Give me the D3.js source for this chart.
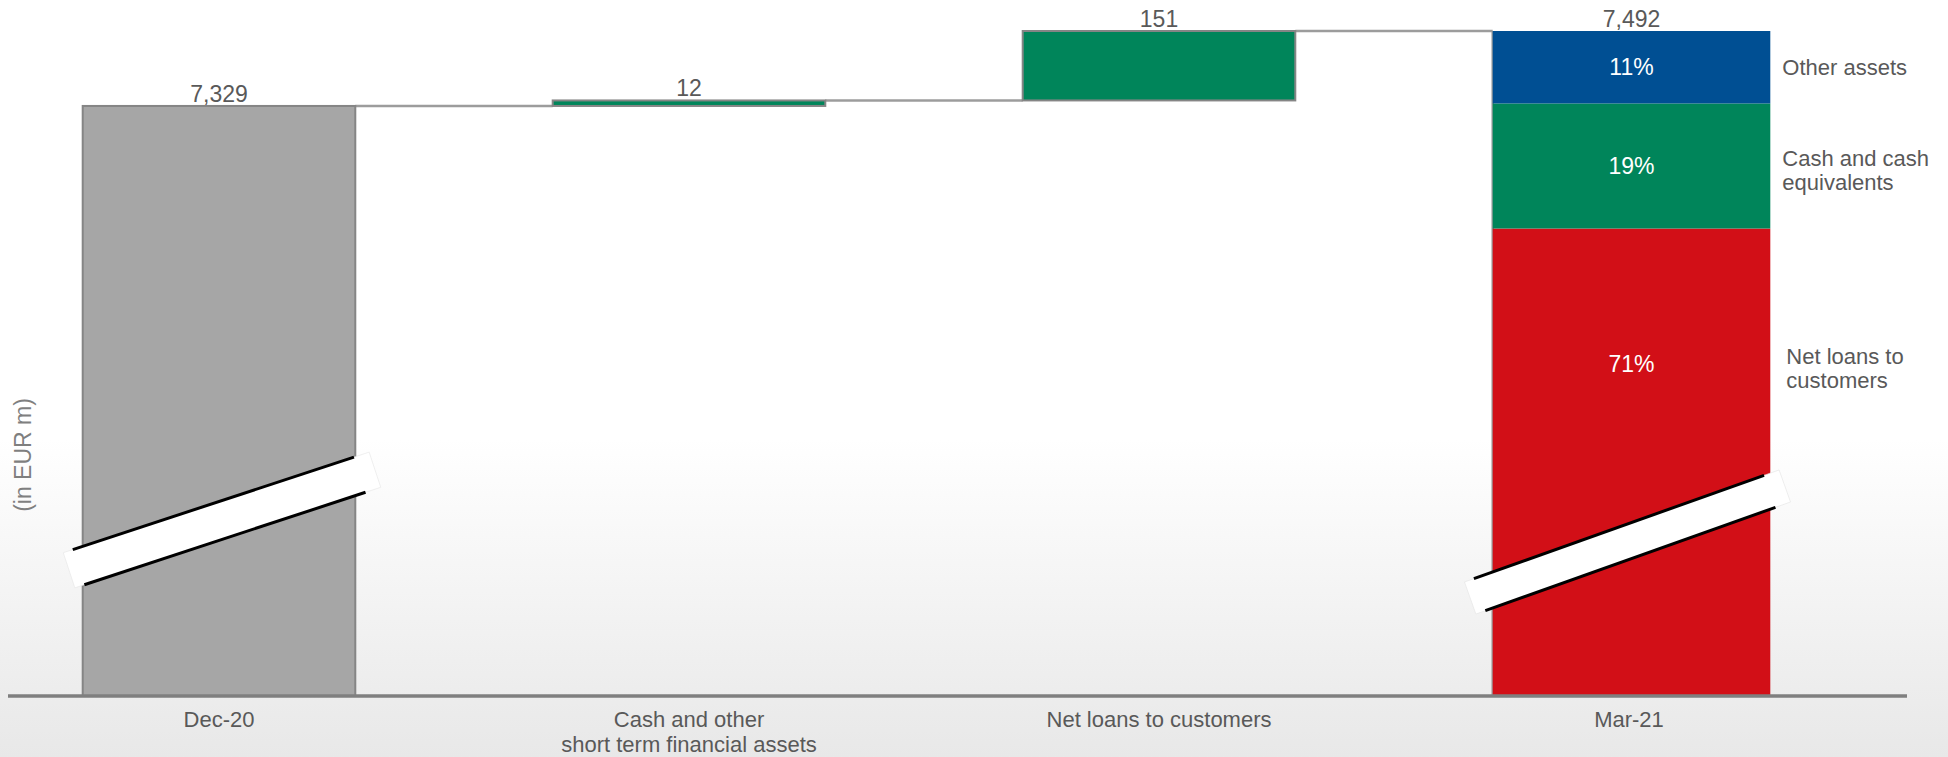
<!DOCTYPE html>
<html><head><meta charset="utf-8">
<script src="https://cdn.jsdelivr.net/npm/d3@7"></script>
<style>html,body{margin:0;padding:0;overflow:hidden;background:#fff}</style>
</head><body>
<svg id="chart" width="1948" height="757"></svg>
<script>
// ---- data ----
const categories = ["Dec-20", "Cash and other\nshort term financial assets", "Net loans to customers", "Mar-21"];
const barTypes = ["total", "delta", "delta", "total"];
const barValues = [7329, 12, 151, 7492];
const compositionNames = ["Net loans to\ncustomers", "Cash and cash\nequivalents", "Other assets"];
const compositionShares = [71, 19, 11];
const yAxisTitle = "(in EUR m)";

// ---- layout ----
const W = 1948, H = 757;
const FONT = "'Liberation Sans', Arial, sans-serif";
const TXT = "#595959";
const svg = d3.select("#chart");
const defs = svg.append("defs");
const grad = defs.append("linearGradient").attr("id", "bg").attr("x1", 0).attr("y1", 0).attr("x2", 0).attr("y2", 1);
grad.append("stop").attr("offset", "0%").attr("stop-color", "#ffffff");
grad.append("stop").attr("offset", "58%").attr("stop-color", "#ffffff");
grad.append("stop").attr("offset", "100%").attr("stop-color", "#e8e8e8");
svg.append("rect").attr("width", W).attr("height", H).attr("fill", "url(#bg)");

const x = d3.scaleBand().domain(categories).range([-16, 1864]).paddingInner(0.42).paddingOuter(0.21);
const y = d3.scaleLinear().domain([6046, 7492]).range([696, 31]);
const floorVal = y.domain()[0];
const fmt = d3.format(",");

// waterfall geometry
let running = 0;
const bars = categories.map((c, i) => {
  let start, end;
  if (barTypes[i] === "total") { start = floorVal; end = barValues[i]; running = barValues[i]; }
  else { start = running; end = running + barValues[i]; running = end; }
  return { cat: c, type: barTypes[i], value: barValues[i], start, end, idx: i };
});

// connectors
const gConn = svg.append("g");
bars.slice(0, -1).forEach((b, i) => {
  const nb = bars[i + 1];
  gConn.append("line")
    .attr("x1", x(b.cat) + x.bandwidth()).attr("x2", x(nb.cat))
    .attr("y1", y(b.end)).attr("y2", y(b.end))
    .attr("stroke", "#9c9c9c").attr("stroke-width", 2.5);
});

// bars
const gBars = svg.append("g");
const colGrey = "#a6a6a6", colGreen = "#00855a", colBlue = "#004f93", colRed = "#d20f17";
bars.forEach((b, i) => {
  if (i === bars.length - 1) return;
  gBars.append("rect")
    .attr("x", x(b.cat)).attr("width", x.bandwidth())
    .attr("y", y(Math.max(b.start, b.end))).attr("height", Math.abs(y(b.start) - y(b.end)))
    .attr("fill", b.type === "total" ? colGrey : colGreen)
    .attr("stroke", "#858585").attr("stroke-width", 2);
});

// final stacked bar (shares of the drawn bar)
const last = bars[bars.length - 1];
const lastTop = y(last.end), lastBot = y(last.start);
const shareSum = d3.sum(compositionShares);
const segColors = [colRed, colGreen, colBlue];
const segScale = d3.scaleLinear().domain([0, shareSum]).range([lastBot, lastTop]);
let acc = 0;
const segs = compositionShares.map((s, i) => {
  const seg = { i, share: s, y0: segScale(acc), y1: segScale(acc + s) };
  acc += s; return seg;
});
const lastX = x(last.cat), lastW = x.bandwidth() + 5;
gBars.append("line").attr("x1", lastX).attr("x2", lastX).attr("y1", lastTop).attr("y2", lastBot)
  .attr("stroke", "#9c9c9c").attr("stroke-width", 2.5);
segs.forEach(s => {
  gBars.append("rect")
    .attr("x", lastX).attr("width", lastW)
    .attr("y", s.y1).attr("height", s.y0 - s.y1)
    .attr("fill", segColors[s.i]);
});

// axis
const axisY = y(floorVal);
const axis = svg.append("g").attr("transform", `translate(0,${axisY})`)
  .call(d3.axisBottom(x).tickSize(0).tickPadding(0));
axis.select(".domain").remove();
axis.selectAll(".tick text").each(function(d) {
  const t = d3.select(this).text(null).attr("font-family", FONT).attr("font-size", 22).attr("fill", TXT)
    .attr("dy", null).attr("y", 0);
  d.split("\n").forEach((line, k) => t.append("tspan").attr("x", 0).attr("y", 31 + k * 25).text(line));
});
svg.append("line").attr("x1", 8).attr("x2", 1907).attr("y1", axisY).attr("y2", axisY)
  .attr("stroke", "#7f7f7f").attr("stroke-width", 3.5);

// break marks
function drawBreak(cx, cy, ang, len, thick) {
  const g = svg.append("g").attr("transform", `translate(${cx},${cy}) rotate(${ang})`);
  g.append("rect").attr("x", -len / 2).attr("y", -thick / 2).attr("width", len).attr("height", thick)
    .attr("fill", "#ffffff").attr("stroke", "#e6e6e6").attr("stroke-width", 0.6);
  [-thick / 2, thick / 2].forEach(yy => g.append("line")
    .attr("x1", -len / 2 + 10).attr("x2", len / 2 - 16).attr("y1", yy).attr("y2", yy)
    .attr("stroke", "#000").attr("stroke-width", 3));
}
const c0 = x(bars[0].cat) + x.bandwidth() / 2;
const c3 = lastX + lastW / 2;
drawBreak(c0 + 3, 520, -18.2, 322, 37);
drawBreak(c3 - 4, 542, -19.6, 334, 34);

// value labels
const gLab = svg.append("g").attr("font-family", FONT).attr("font-size", 23).attr("fill", TXT).attr("text-anchor", "middle");
bars.forEach((b, i) => {
  const cx = i === bars.length - 1 ? c3 : x(b.cat) + x.bandwidth() / 2;
  gLab.append("text").attr("x", cx).attr("y", y(Math.max(b.start, b.end)) - 4)
    .text(fmt(b.value));
});

// percentage + composition labels
const breakTopY = 500;
segs.forEach(s => {
  const visBot = s.i === 0 ? breakTopY : s.y0;
  const cy = (s.y1 + visBot) / 2;
  svg.append("text").attr("x", c3).attr("y", cy + 8).attr("text-anchor", "middle")
    .attr("font-family", FONT).attr("font-size", 23).attr("fill", "#ffffff")
    .text(s.share + "%");
  const lines = compositionNames[s.i].split("\n");
  const t = svg.append("text").attr("font-family", FONT).attr("font-size", 22).attr("fill", TXT);
  const x0 = lastX + lastW + 12 + (s.i === 0 ? 4 : 0);
  lines.forEach((ln, k) => t.append("tspan").attr("x", x0)
    .attr("y", cy + 8 - (lines.length - 1) * 12 + k * 24 + (lines.length > 1 ? 4 : 0)).text(ln));
});

// y axis title
svg.append("text").attr("transform", "translate(23,455) rotate(-90)")
  .attr("text-anchor", "middle").attr("dominant-baseline", "central")
  .attr("font-family", FONT).attr("font-size", 23).attr("fill", "#7f7f7f").text(yAxisTitle);
</script>
</body></html>
